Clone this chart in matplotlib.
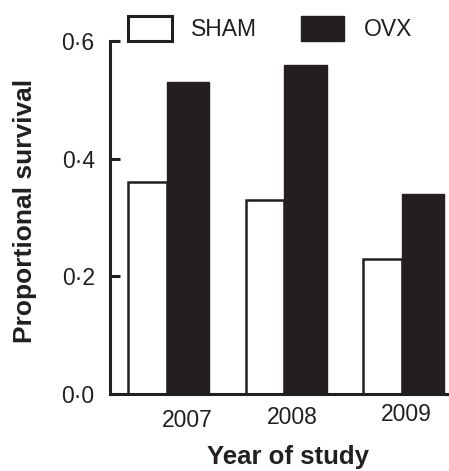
import matplotlib.pyplot as plt
import numpy as np

plt.rcParams['font.family'] = ['Liberation Sans', 'DejaVu Sans']

# data
years = ["2007", "2008", "2009"]
sham = [0.36, 0.33, 0.23]
ovx = [0.53, 0.56, 0.34]
yticks = [0.0, 0.2, 0.4, 0.6]
ytick_labels = ["0·0", "0·2", "0·4", "0·6"]

black = "#231f20"

fig = plt.figure(figsize=(4.49, 4.71), dpi=100)
ax = fig.add_axes([110 / 449, 77 / 471, 1 - 110 / 449, 353 / 471])

x = np.arange(len(years))
ax.bar(x - 0.33, sham, width=0.33, align="edge", color="white",
       edgecolor=black, linewidth=1.8, label="SHAM")
ax.bar(x, ovx, width=0.36, align="edge", color=black,
       edgecolor=black, linewidth=1.0, label="OVX")

ax.set_xlim(-0.485, 2.4)
ax.set_ylim(0, 0.6)

ax.spines["top"].set_visible(False)
ax.spines["right"].set_visible(False)
for s in ["left", "bottom"]:
    ax.spines[s].set_linewidth(2.2)
    ax.spines[s].set_color(black)
    ax.spines[s].set_capstyle("projecting")

ax.set_yticks(yticks)
ax.set_yticklabels(ytick_labels, fontsize=16.5, color=black)
ax.tick_params(axis="y", direction="in", length=7, width=2.2, color=black, pad=11)
ax.set_xticks([])

# year labels, slightly staggered like the original
x_off = [0.17, 0.064, 0.034]
y_off = [-19, -17, -15]
for i, yr in enumerate(years):
    ax.annotate(yr, (x[i] + x_off[i], 0), xycoords=("data", "axes fraction"),
                xytext=(0, y_off[i]), textcoords="offset points",
                ha="center", va="center", fontsize=16.5, color=black)

fig.text(25 / 449, 1 - 211 / 471, "Proportional survival", rotation=90,
         ha="center", va="center", fontsize=19, fontweight="bold", color=black)
fig.text(288 / 449, 1 - 457 / 471, "Year of study",
         ha="center", va="center", fontsize=18.5, fontweight="bold", color=black)

leg = fig.legend(loc="upper left", bbox_to_anchor=(128 / 449, 1 - 16 / 471),
                 ncol=2, frameon=False, fontsize=16.5, handlelength=1.9,
                 handleheight=1.3, handletextpad=0.85, columnspacing=1.9,
                 borderpad=0, borderaxespad=0)
leg.legend_handles[0].set_linewidth(2.2)
for t in leg.get_texts():
    t.set_color(black)

fig.savefig("out.png", dpi=100)
